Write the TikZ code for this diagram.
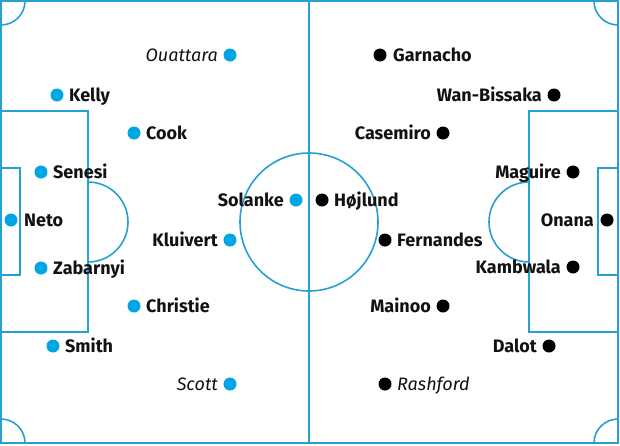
\documentclass[tikz,border=0pt]{standalone}
\usepackage{fontspec}
\setmainfont{Fira Sans}
\definecolor{pitch}{RGB}{38,160,210}
\definecolor{sky}{RGB}{0,166,228}
\definecolor{ink}{RGB}{18,18,18}
\begin{document}
\begin{tikzpicture}[x=1pt,y=-1pt,
  line/.style={draw=pitch,line width=1.6pt},
  bdot/.style={circle,fill=sky,minimum size=13pt,inner sep=0pt},
  kdot/.style={circle,fill=black,minimum size=13pt,inner sep=0pt},
  lab/.style={inner sep=0pt,text=ink,font=\fontsize{18}{18}\selectfont\bfseries},
  ilab/.style={inner sep=0pt,text=ink,font=\fontsize{18}{18}\selectfont\itshape},
  R/.style={anchor=base west},
  L/.style={anchor=base east}]
\useasboundingbox (0,0) rectangle (620,445);
\fill[white] (0,0) rectangle (620,445);
% pitch
\draw[line] (1,1) rectangle (618,443);
\draw[line] (309,1) -- (309,443);
\draw[line] (309,222) circle[radius=69];
\draw[line] (1,111) rectangle (88,332);
\draw[line] (1,168) rectangle (20,275);
\draw[line] (88,182) arc[start angle=-90,end angle=90,radius=40];
\draw[line] (618,111) rectangle (529,332);
\draw[line] (618,168) rectangle (598,275);
\draw[line] (529,182) arc[start angle=270,end angle=90,radius=40];
\draw[line] (25,1) arc[start angle=0,end angle=90,radius=24];
\draw[line] (1,419) arc[start angle=-90,end angle=0,radius=24];
\draw[line] (594,1) arc[start angle=180,end angle=90,radius=24];
\draw[line] (618,419) arc[start angle=270,end angle=180,radius=24];
% blue team
\node[bdot] (ouattara) at (230,55) {};
\node[ilab,L] (ouattaraL) at (218,61.5) {Ouattara};
\node[bdot] (kelly) at (57,95) {};
\node[lab,R] (kellyL) at (69,101.5) {Kelly};
\node[bdot] (cook) at (134,133) {};
\node[lab,R] (cookL) at (146,139.5) {Cook};
\node[bdot] (senesi) at (41,172) {};
\node[lab,R] (senesiL) at (53,178.5) {Senesi};
\node[bdot] (neto) at (11,220) {};
\node[lab,R] (netoL) at (24,226.5) {Neto};
\node[bdot] (zabarnyi) at (41,268) {};
\node[lab,R] (zabarnyiL) at (53,274.5) {Zabarnyi};
\node[bdot] (christie) at (134,306) {};
\node[lab,R] (christieL) at (146,312.5) {Christie};
\node[bdot] (smith) at (53,346) {};
\node[lab,R] (smithL) at (65,352.5) {Smith};
\node[bdot] (scott) at (230,384) {};
\node[ilab,L] (scottL) at (218,390.5) {Scott};
\node[bdot] (solanke) at (296,200) {};
\node[lab,L] (solankeL) at (284,206.5) {Solanke};
\node[bdot] (kluivert) at (230,240) {};
\node[lab,L] (kluivertL) at (218,246.5) {Kluivert};
% black team
\node[kdot] (garnacho) at (380,55) {};
\node[lab,R] (garnachoL) at (393,61.5) {Garnacho};
\node[kdot] (wanbissaka) at (554,95) {};
\node[lab,L] (wanbissakaL) at (542,101.5) {Wan-Bissaka};
\node[kdot] (casemiro) at (443,133) {};
\node[lab,L] (casemiroL) at (431,139.5) {Casemiro};
\node[kdot] (maguire) at (573,172) {};
\node[lab,L] (maguireL) at (561,178.5) {Maguire};
\node[kdot] (onana) at (607,220) {};
\node[lab,L] (onanaL) at (594,226.5) {Onana};
\node[kdot] (kambwala) at (573,267) {};
\node[lab,L] (kambwalaL) at (561,273.5) {Kambwala};
\node[kdot] (mainoo) at (443,306) {};
\node[lab,L] (mainooL) at (431,312.5) {Mainoo};
\node[kdot] (dalot) at (549,346) {};
\node[lab,L] (dalotL) at (537,352.5) {Dalot};
\node[kdot] (rashford) at (385,384) {};
\node[ilab,R] (rashfordL) at (397,390.5) {Rashford};
\node[kdot] (hojlund) at (322,200) {};
\node[lab,R] (hojlundL) at (334,206.5) {Højlund};
\node[kdot] (fernandes) at (385,240) {};
\node[lab,R] (fernandesL) at (397,246.5) {Fernandes};
\end{tikzpicture}
\end{document}
